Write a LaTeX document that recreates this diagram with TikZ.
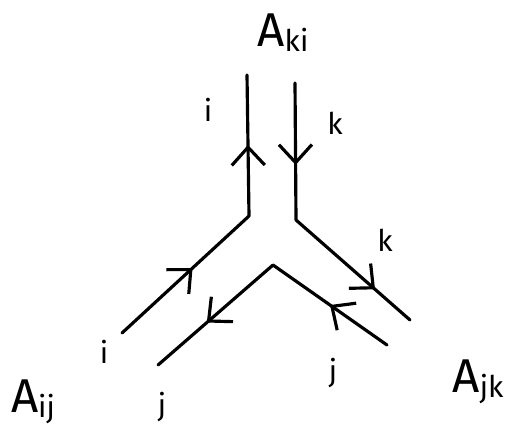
\documentclass[tikz,border=0pt]{standalone}
\usepackage{fontspec}
\setmainfont{Fira Sans}
\usetikzlibrary{arrows.meta,decorations.markings}
\tikzset{
  px/.style={x=0.02cm,y=-0.02cm},
  strand/.style={line width=1.8pt,line cap=round,line join=round},
  lbl/.style={font=\fontsize{17}{17}\selectfont,inner sep=0pt},
  bigl/.style={font=\fontsize{27}{27}\selectfont,inner sep=0pt},
  arrowsat/.style 2 args={postaction={decorate},decoration={markings,
    mark=at position #1 with {\arrow{Straight Barb[length=3.6mm,width=6.6mm,line width=1.8pt]}},
    mark=at position #2 with {\arrow{Straight Barb[length=3.6mm,width=6.6mm,line width=1.8pt]}}}}
}
\newcommand{\mysub}[1]{\lower3pt\hbox{\fontsize{17}{17}\selectfont #1}}
\begin{document}
\begin{tikzpicture}[px]
\useasboundingbox (0,0) rectangle (510,434);
% coordinates
\coordinate (lb) at (122,333);
\coordinate (lc) at (249,216);
\coordinate (lt) at (247,75);
\coordinate (rt) at (295,83);
\coordinate (rc) at (296,220);
\coordinate (rb) at (410,320);
\coordinate (ir) at (387,345);
\coordinate (ip) at (273,265);
\coordinate (il) at (158,365);
% strands
\draw[strand,arrowsat={0.306}{0.777}] (lb) -- (lc) -- (lt);
\draw[strand,arrowsat={0.284}{0.839}] (rt) -- (rc) -- (rb);
\draw[strand,arrowsat={0.239}{0.779}] (ir) -- (ip) -- (il);
% labels
\node[bigl] (aki) at (283,33) {A\mysub{ki}};
\node[bigl] (aij) at (33,402) {A\mysub{ij}};
\node[bigl] (ajk) at (478,382) {A\mysub{jk}};
\node[lbl] (li1) at (208,110) {i};
\node[lbl] (lk1) at (335,123) {k};
\node[lbl] (lk2) at (385,240) {k};
\node[lbl] (li2) at (104,352) {i};
\node[lbl] (lj1) at (162,407) {j};
\node[lbl] (lj2) at (333,373) {j};
\end{tikzpicture}
\end{document}
